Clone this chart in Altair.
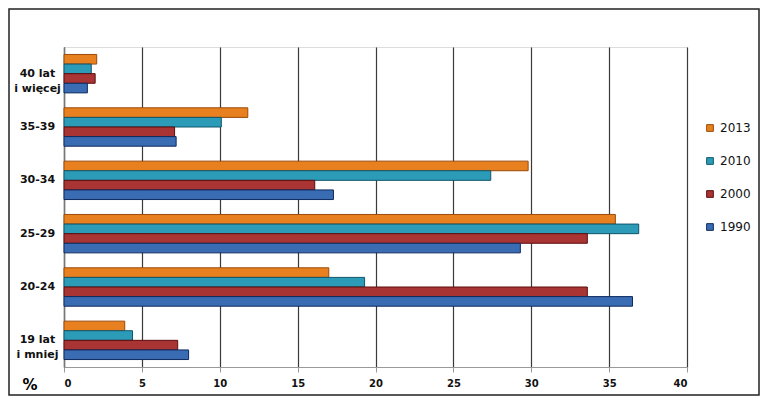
import altair as alt
import pandas as pd

categories = ["40 lat|i więcej", "35-39", "30-34", "25-29", "20-24", "19 lat|i mniej"]
years = ["2013", "2010", "2000", "1990"]
v2013 = [2.1, 11.8, 29.8, 35.4, 17.0, 3.9]
v2010 = [1.75, 10.1, 27.4, 36.9, 19.3, 4.4]
v2000 = [2.0, 7.1, 16.1, 33.6, 33.6, 7.3]
v1990 = [1.5, 7.2, 17.3, 29.3, 36.5, 8.0]
x_ticks = [0, 5, 10, 15, 20, 25, 30, 35, 40]

fill_colors = ["#E8801F", "#2B9BB8", "#A83434", "#3A6CB4"]
stroke_colors = ["#9A4A08", "#10566B", "#5E0D0D", "#0E2A5E"]

rows = []
for yr, vals in zip(years, [v2013, v2010, v2000, v1990]):
    for c, v in zip(categories, vals):
        rows.append({"cat": c, "year": yr, "value": v})
df = pd.DataFrame(rows)

bars = alt.Chart(df).mark_bar(strokeWidth=1).encode(
    y=alt.Y("cat:N", sort=categories, title=None,
            scale=alt.Scale(paddingInner=0.28, paddingOuter=0.14),
            axis=alt.Axis(labelExpr="split(datum.label, '|')", ticks=False,
                          labelAlign="center", labelPadding=27, labelLineHeight=15,
                          labelFont="DejaVu Sans", labelFontSize=11, labelFontWeight="bold",
                          labelColor="#111", domainColor="#777", domainWidth=1.5, grid=False)),
    yOffset=alt.YOffset("year:N", sort=years),
    x=alt.X("value:Q", title="%",
            scale=alt.Scale(domain=[0, 40], nice=False),
            axis=alt.Axis(values=x_ticks, grid=True, gridColor="#3a3a3a", gridWidth=1.2,
                          gridOpacity=1, domainColor="#999", tickColor="#999", tickSize=5,
                          labelFont="DejaVu Sans", labelFontSize=10, labelFontWeight="bold",
                          labelColor="#111", labelPadding=6,
                          titleFont="DejaVu Sans", titleFontSize=15, titleFontWeight="bold",
                          titleX=-42, titleY=22, titleAlign="left", titleBaseline="alphabetic")),
    color=alt.Color("year:N", sort=years,
                    scale=alt.Scale(domain=years, range=fill_colors),
                    legend=alt.Legend(title=None, orient="none", legendX=640, legendY=75,
                                      symbolType="square", symbolSize=45, rowPadding=21,
                                      labelFont="DejaVu Sans", labelFontSize=12, labelOffset=4,
                                      labelColor="#111", symbolStrokeWidth=1)),
    stroke=alt.Stroke("year:N", sort=years,
                      scale=alt.Scale(domain=years, range=stroke_colors), legend=None),
)

frame_df = pd.DataFrame({"a": [0]})
frame = alt.Chart(frame_df).mark_rect(fill=None, stroke="#222", strokeWidth=1.5).encode(
    x=alt.value(-55), x2=alt.value(695), y=alt.value(-38), y2=alt.value(348)
)

chart = alt.layer(bars, frame).properties(
    width=623, height=320,
    autosize=alt.AutoSizeParams(type="none"),
    padding={"left": 56, "top": 39, "right": 73, "bottom": 29},
).configure_view(stroke=None).configure(background="white")

chart.save("out.html", embed_options={"renderer": "svg", "actions": False})
